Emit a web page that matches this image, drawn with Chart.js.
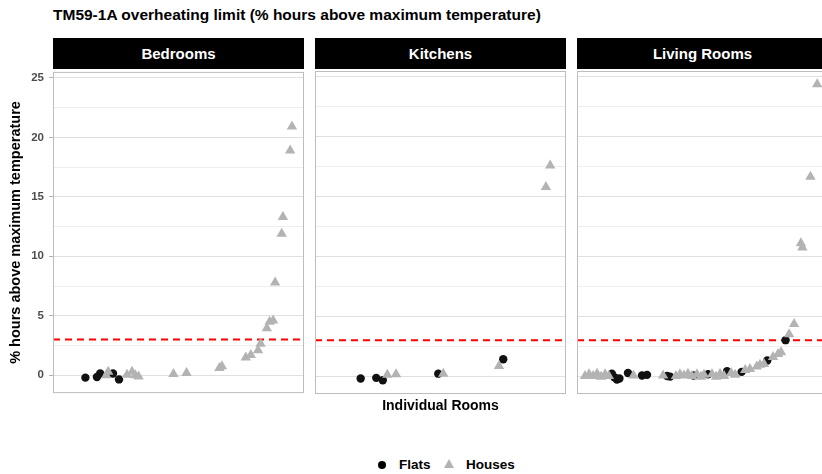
<!DOCTYPE html>
<html>
<head>
<meta charset="utf-8">
<script src="https://cdn.jsdelivr.net/npm/chart.js@4.4.1/dist/chart.umd.min.js"></script>
<style>
  html, body { margin: 0; padding: 0; background: #fff; }
  body { width: 822px; height: 474px; position: relative; overflow: hidden;
         font-family: "Liberation Sans", Arial, sans-serif; }
  .abs { position: absolute; }
  #title { left: 53px; top: 6px; font-size: 15.5px; font-weight: bold; color: #000; white-space: nowrap; }
  .strip { top: 38px; height: 31px; line-height: 31px; background: #000; color: #fff;
           font-size: 15px; font-weight: bold; text-align: center; }
  #xtitle { left: 53px; width: 775px; top: 397px; text-align: center; font-size: 14px; font-weight: bold; }
  .leg { top: 457px; font-size: 13.5px; font-weight: bold; color: #000; }
  #legDot { left: 378px; top: 461px; width: 8px; height: 8px; border-radius: 50%; background: #000; }
  #legTri { left: 444px; top: 459px; width: 0; height: 0; border-left: 5px solid transparent;
            border-right: 5px solid transparent; border-bottom: 9px solid #B3B3B3; }
</style>
</head>
<body>
<div id="title" class="abs">TM59-1A overheating limit (% hours above maximum temperature)</div>

<div class="abs strip" style="left:53px;width:251px;">Bedrooms</div>
<div class="abs strip" style="left:315px;width:251px;">Kitchens</div>
<div class="abs strip" style="left:577px;width:251px;">Living Rooms</div>

<canvas id="bedrooms" class="abs" width="304" height="345" style="left:0;top:60px;"></canvas>
<canvas id="kitchens" class="abs" width="251" height="345" style="left:315px;top:60px;"></canvas>
<canvas id="living" class="abs" width="251" height="345" style="left:577px;top:60px;"></canvas>

<div id="xtitle" class="abs">Individual Rooms</div>

<div id="legDot" class="abs"></div>
<div class="abs leg" style="left:399px;">Flats</div>
<div id="legTri" class="abs"></div>
<div class="abs leg" style="left:466px;">Houses</div>

<script>
// limit line (TM59 criterion 1a, 3% of hours)
const LIMIT = 3;

// y axis breaks
const Y_MAJOR = [0, 5, 10, 15, 20, 25];
const Y_MINOR = [2.5, 7.5, 12.5, 17.5, 22.5];
const Y_MIN = -1.5;
const Y_MAX = 25.5;

// x = position of the room inside its panel (0-100), y = % hours above max temp
const BED_FLATS_X = [12.9, 17.5, 18.8, 23.9, 26.3];
const BED_FLATS_Y = [-0.2, -0.15, 0.15, 0.15, -0.35];
const BED_HOUSES_X = [21.2, 22.0, 29.5, 31.5, 32.8, 34.1, 48.0, 53.2, 66.3, 67.3, 76.8, 78.8,
  81.7, 82.7, 85.2, 86.3, 87.7, 88.5, 91.1, 91.6, 94.5, 95.2];
const BED_HOUSES_Y = [0.0, 0.3, 0.05, 0.3, 0.0, -0.1, 0.1, 0.2, 0.6, 0.75, 1.5, 1.7,
  2.1, 2.65, 3.95, 4.5, 4.6, 7.8, 11.9, 13.3, 18.9, 20.9];

const KIT_FLATS_X = [18.2, 24.4, 27.0, 49.1, 75.0];
const KIT_FLATS_Y = [-0.2, -0.15, -0.35, 0.2, 1.4];
const KIT_HOUSES_X = [28.8, 32.3, 51.1, 73.3, 92.0, 93.7];
const KIT_HOUSES_Y = [0.1, 0.15, 0.2, 0.85, 15.8, 17.6];

const LIV_FLATS_X = [13.9, 14.9, 15.9, 16.9, 20.3, 25.9, 27.9, 35.9, 37.1, 46.4, 52.2, 59.8,
  65.6, 75.8, 83.1];
const LIV_FLATS_Y = [0.2, -0.1, -0.3, -0.2, 0.25, 0.05, 0.1, 0.0, -0.05, 0.05, 0.15, 0.4,
  0.35, 1.3, 3.0];
const LIV_HOUSES_X = [3.2, 4.8, 6.4, 8.0, 9.6, 11.2, 12.7, 22.5, 34.3, 39.4, 41.0, 42.6,
  44.2, 45.8, 47.8, 49.4, 50.6, 53.8, 55.4, 57.0, 58.6, 61.4, 63.0, 67.0, 68.9, 71.6, 72.9,
  74.5, 78.1, 80.1, 81.3, 84.5, 86.5, 89.2, 89.8, 93.0, 95.7];
const LIV_HOUSES_Y = [0.0, 0.15, 0.0, 0.2, -0.05, 0.15, 0.0, 0.05, 0.05, 0.0, 0.15, 0.05,
  0.2, 0.0, 0.15, -0.05, 0.1, 0.15, -0.05, 0.2, 0.0, 0.25, 0.1, 0.5, 0.6, 0.8, 0.95,
  1.0, 1.6, 1.85, 2.0, 3.5, 4.35, 11.1, 10.75, 16.65, 24.4];

const FONT = "'Liberation Sans', Arial, sans-serif";

function toPoints(xs, ys) {
  return xs.map((x, i) => ({ x, y: ys[i] }));
}

// grey border round each facet panel
const panelBorder = {
  id: "panelBorder",
  afterDraw(chart) {
    const a = chart.chartArea;
    const ctx = chart.ctx;
    ctx.save();
    ctx.strokeStyle = "#BDBDBD";
    ctx.lineWidth = 1;
    ctx.strokeRect(a.left + 0.5, a.top + 0.5, a.right - a.left - 1, a.bottom - a.top - 1);
    ctx.restore();
  },
};

function isMajor(v) {
  return Y_MAJOR.includes(v);
}

function makePanel(id, flatsX, flatsY, housesX, housesY, showY) {
  const el = document.getElementById(id);
  return new Chart(el.getContext("2d"), {
    type: "scatter",
    data: {
      datasets: [
        {
          label: "limit",
          type: "line",
          data: [{ x: 0, y: LIMIT }, { x: 100, y: LIMIT }],
          borderColor: "#FF0000",
          borderWidth: 2,
          borderDash: [7, 5],
          pointRadius: 0,
          order: 3,
        },
        {
          label: "Flats",
          data: toPoints(flatsX, flatsY),
          pointStyle: "circle",
          pointRadius: 4.2,
          backgroundColor: "#111111",
          borderWidth: 0,
          order: 2,
        },
        {
          label: "Houses",
          data: toPoints(housesX, housesY),
          pointStyle: "triangle",
          pointRadius: 6,
          backgroundColor: "#B3B3B3",
          borderWidth: 0,
          order: 1,
        },
      ],
    },
    options: {
      responsive: false,
      animation: false,
      events: [],
      layout: { autoPadding: false, padding: { top: 11, bottom: 11, left: 0, right: 0 } },
      plugins: { legend: { display: false }, tooltip: { enabled: false } },
      scales: {
        x: { type: "linear", min: 0, max: 100, display: false },
        y: {
          type: "linear",
          min: Y_MIN,
          max: Y_MAX,
          afterBuildTicks: (s) => {
            s.ticks = Y_MAJOR.concat(Y_MINOR).sort((a, b) => a - b).map((v) => ({ value: v }));
          },
          afterFit: (s) => {
            s.width = showY ? 53 : 0;
          },
          border: { display: false },
          grid: {
            color: (c) => (c.tick && isMajor(c.tick.value) ? "#E0E0E0" : "#EEEEEE"),
            lineWidth: 1,
            drawTicks: showY,
            tickLength: 4,
            tickColor: (c) => (c.tick && isMajor(c.tick.value) ? "#B3B3B3" : "rgba(0,0,0,0)"),
          },
          ticks: {
            display: showY,
            autoSkip: false,
            padding: 5,
            color: "#4D4D4D",
            font: { family: FONT, size: 11.5, weight: "bold" },
            callback: (v) => (isMajor(v) ? v : ""),
          },
          title: {
            display: showY,
            text: "% hours above maximum temperature",
            color: "#000",
            font: { family: FONT, size: 14.5, weight: "bold" },
            padding: { top: 7, bottom: 0 },
          },
        },
      },
    },
    plugins: [panelBorder],
  });
}

makePanel("bedrooms", BED_FLATS_X, BED_FLATS_Y, BED_HOUSES_X, BED_HOUSES_Y, true);
makePanel("kitchens", KIT_FLATS_X, KIT_FLATS_Y, KIT_HOUSES_X, KIT_HOUSES_Y, false);
makePanel("living", LIV_FLATS_X, LIV_FLATS_Y, LIV_HOUSES_X, LIV_HOUSES_Y, false);
</script>
</body>
</html>
